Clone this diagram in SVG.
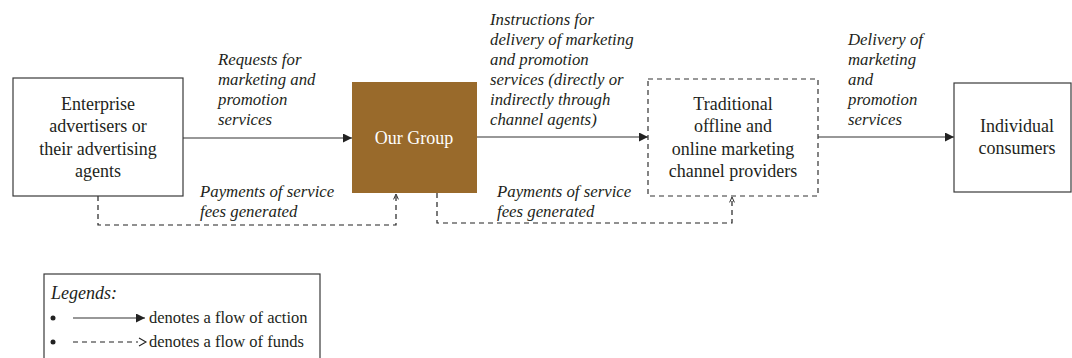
<svg xmlns="http://www.w3.org/2000/svg" width="1072" height="358" viewBox="0 0 1072 358">
<defs>
<style>
.node{fill:#fff;stroke:#3a3a3a;stroke-width:1.2}
.dnode{fill:#fff;stroke:#333;stroke-width:1.2;stroke-dasharray:5,4}
.t{font-family:"Liberation Serif","Times New Roman",serif;font-size:18px;fill:#231f20;text-anchor:middle}
.lbl{font-family:"Liberation Serif","Times New Roman",serif;font-size:16.8px;font-style:italic;fill:#231f20}
.leg{font-family:"Liberation Serif","Times New Roman",serif;font-size:16.5px;fill:#231f20}
.act{fill:none;stroke:#333;stroke-width:1.2}
.fund{fill:none;stroke:#222;stroke-width:1.2;stroke-dasharray:5,4}
</style>
<marker id="ah" viewBox="0 0 10 10" refX="10" refY="5" markerWidth="9" markerHeight="9" markerUnits="userSpaceOnUse" orient="auto">
<path d="M0,0 L10,5 L0,10 Z" fill="#222"/>
</marker>
<marker id="oh" viewBox="0 0 10 10" refX="10" refY="5" markerWidth="6" markerHeight="7" markerUnits="userSpaceOnUse" orient="auto">
<path d="M1,1 L10,5 L1,9" fill="none" stroke="#222" stroke-width="1.6"/>
</marker>
</defs>
<rect width="1072" height="358" fill="#fff"/>

<g id="connectors">
<line class="act" x1="183" y1="138" x2="352" y2="138" marker-end="url(#ah)"/>
<line class="act" x1="477" y1="137" x2="648" y2="137" marker-end="url(#ah)"/>
<line class="act" x1="818" y1="137" x2="954" y2="137" marker-end="url(#ah)"/>
<polyline class="fund" points="98,196 98,225 396,225 396,194" marker-end="url(#oh)"/>
<polyline class="fund" points="437,193 437,223 732,223 732,197" marker-end="url(#oh)"/>
<text class="lbl" x="218" y="65">Requests for</text>
<text class="lbl" x="218" y="85">marketing and</text>
<text class="lbl" x="218" y="105">promotion</text>
<text class="lbl" x="218" y="125">services</text>
<text class="lbl" x="200" y="197">Payments of service</text>
<text class="lbl" x="200" y="217">fees generated</text>
<text class="lbl" x="490" y="25">Instructions for</text>
<text class="lbl" x="490" y="45">delivery of marketing</text>
<text class="lbl" x="490" y="65">and promotion</text>
<text class="lbl" x="490" y="85">services (directly or</text>
<text class="lbl" x="490" y="105">indirectly through</text>
<text class="lbl" x="490" y="125">channel agents)</text>
<text class="lbl" x="497" y="197">Payments of service</text>
<text class="lbl" x="497" y="217">fees generated</text>
<text class="lbl" x="848" y="45">Delivery of</text>
<text class="lbl" x="848" y="65">marketing</text>
<text class="lbl" x="848" y="85">and</text>
<text class="lbl" x="848" y="105">promotion</text>
<text class="lbl" x="848" y="125">services</text>
</g>

<g id="enterprise">
<rect class="node" x="13" y="78" width="170" height="118"/>
<text class="t" x="98" y="110">Enterprise</text>
<text class="t" x="98" y="132">advertisers or</text>
<text class="t" x="98" y="155">their advertising</text>
<text class="t" x="98" y="177">agents</text>
</g>

<g id="our-group">
<rect x="352" y="82" width="125" height="111" fill="#996a2b"/>
<text class="t" x="414" y="144" style="fill:#fff">Our Group</text>
</g>

<g id="channel-providers">
<rect class="dnode" x="648" y="79" width="170" height="117"/>
<text class="t" x="733" y="110">Traditional</text>
<text class="t" x="733" y="132">offline and</text>
<text class="t" x="733" y="155">online marketing</text>
<text class="t" x="733" y="177">channel providers</text>
</g>

<g id="consumers">
<rect class="node" x="954" y="83" width="117" height="109"/>
<text class="t" x="1017" y="132">Individual</text>
<text class="t" x="1017" y="154">consumers</text>
</g>

<g id="legend">
<rect class="node" x="44" y="274" width="276" height="100"/>
<text class="lbl" x="51" y="299" style="font-size:18px">Legends:</text>
<circle cx="53" cy="318" r="2.5" fill="#222"/>
<circle cx="53" cy="342" r="2.5" fill="#222"/>
<line class="act" x1="73" y1="318" x2="145" y2="318" marker-end="url(#ah)"/>
<line x1="73" y1="342" x2="138" y2="342" stroke="#222" stroke-width="1.1" stroke-dasharray="5,4"/>
<path d="M139,338 L146,342 L139,346" fill="none" stroke="#222" stroke-width="1.1"/>
<text class="leg" x="149" y="323">denotes a flow of action</text>
<text class="leg" x="149" y="347">denotes a flow of funds</text>
</g>
</svg>
